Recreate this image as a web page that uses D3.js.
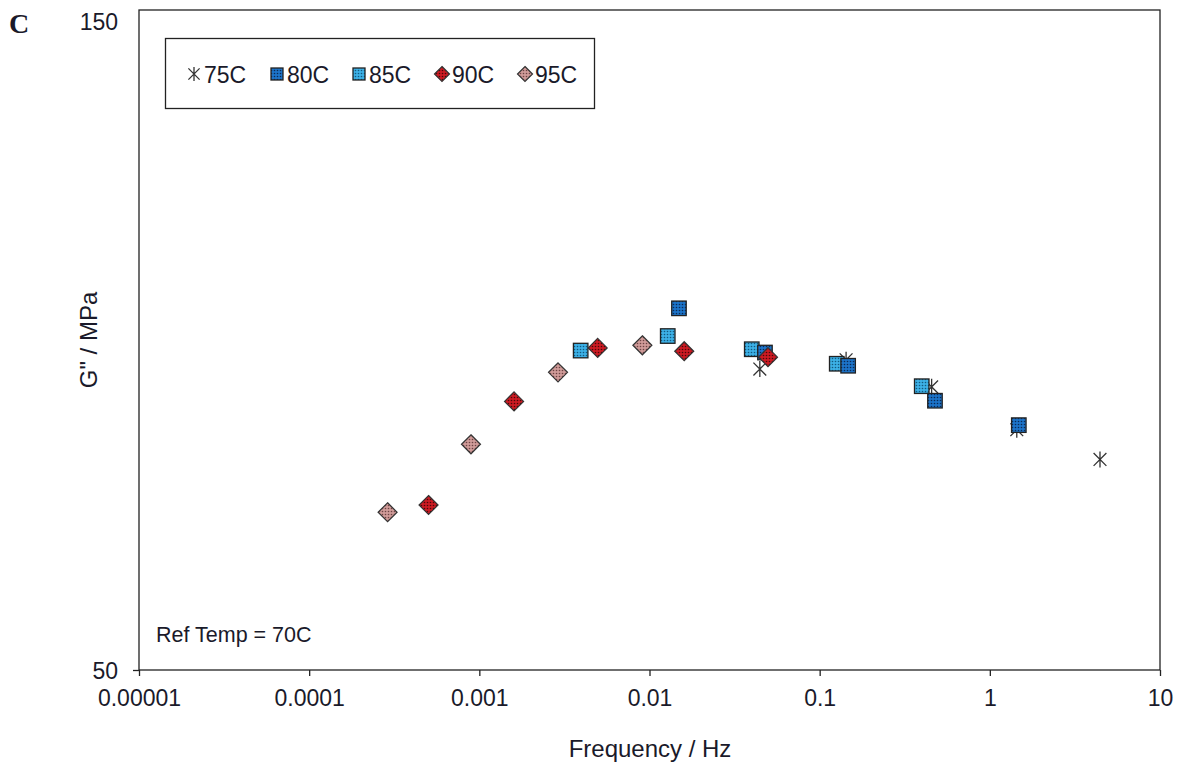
<!DOCTYPE html>
<html><head><meta charset="utf-8">
<script src="https://cdn.jsdelivr.net/npm/d3@7/dist/d3.min.js"></script>
<style>body{margin:0;background:#fff}svg{display:block}text{font-family:"Liberation Sans",Arial,sans-serif;fill:#1a1a2a}</style>
</head><body><svg id="c" width="1179" height="767"></svg>
<script>
const series = ["75C","80C","85C","90C","95C"];
const f75 = [0.0445, 0.143, 0.455, 1.44, 4.44];
const g75 = [95.6, 97.0, 92.9, 86.4, 81.9];
const f80 = [0.0149, 0.0477, 0.147, 0.476, 1.48];
const g80 = [104.8, 98.1, 96.1, 90.8, 87.1];
const f85 = [0.00394, 0.0128, 0.0399, 0.126, 0.398];
const g85 = [98.4, 100.6, 98.6, 96.4, 93.0];
const f90 = [0.000503, 0.0016, 0.00496, 0.016, 0.0497];
const g90 = [75.0, 90.7, 98.8, 98.3, 97.4];
const f95 = [0.000289, 0.000893, 0.0029, 0.00908];
const g95 = [73.9, 84.2, 95.1, 99.2];
const xTicks = [0.00001, 0.0001, 0.001, 0.01, 0.1, 1, 10];
const xTickLabels = ["0.00001","0.0001","0.001","0.01","0.1","1","10"];
const yTicks = [50, 150];

const svg = d3.select("#c");
const L = 139, R = 1160, T = 10, B = 670;
const x = d3.scaleLog().domain([1e-5, 10]).range([L, R]);
const y = d3.scaleLinear().domain([50, 150]).range([B, T]);

// patterns
const defs = svg.append("defs");
function pat(id, bg, dot) {
  const p = defs.append("pattern").attr("id", id).attr("patternUnits", "userSpaceOnUse")
    .attr("width", 3).attr("height", 3);
  p.append("rect").attr("width", 3).attr("height", 3).attr("fill", bg);
  p.append("circle").attr("cx", 1.5).attr("cy", 1.5).attr("r", 0.8).attr("fill", dot);
}
pat("p80", "#1c73c8", "#0a2a55");
pat("p85", "#3cb0e6", "#135a80");
pat("p90", "#cc1a22", "#4a0808");
pat("p95", "#cf9a98", "#6e4444");

// frame
svg.append("rect").attr("x", L).attr("y", T).attr("width", R - L).attr("height", B - T)
  .attr("fill", "none").attr("stroke", "#222").attr("stroke-width", 1.3);

// x axis
const xa = svg.append("g").attr("transform", `translate(0,${B})`)
  .call(d3.axisBottom(x).tickValues(xTicks).tickFormat((d, i) => xTickLabels[i]).tickSize(6).tickSizeOuter(0));
xa.select(".domain").remove();
xa.selectAll(".tick line").attr("stroke", "#222").attr("stroke-width", 1.3);
xa.selectAll(".tick text").attr("font-size", 23).attr("y", 36).attr("dy", 0).attr("fill", "#1a1a2a")
  .style("font-family", "Liberation Sans, Arial, sans-serif");

// y axis
const ya = svg.append("g").attr("transform", `translate(${L},0)`)
  .call(d3.axisLeft(y).tickValues(yTicks).tickFormat(d3.format("d")).tickSize(6).tickSizeOuter(0));
ya.select(".domain").remove();
ya.selectAll(".tick line").attr("stroke", "#222").attr("stroke-width", 1.3)
  .attr("opacity", d => d === 150 ? 0 : 1);
ya.selectAll(".tick text").attr("font-size", 23).attr("x", -21).attr("fill", "#1a1a2a")
  .attr("dy", d => d === 150 ? "0.85em" : "0.36em")
  .style("font-family", "Liberation Sans, Arial, sans-serif");

// labels
svg.append("text").attr("x", 9).attr("y", 33).text("C")
  .style("font-family", "Liberation Serif, Times New Roman, serif").attr("font-weight", "bold")
  .attr("font-size", 28).attr("fill", "#111");
svg.append("text").attr("x", 650).attr("y", 757).attr("text-anchor", "middle")
  .attr("font-size", 24).text("Frequency / Hz");
svg.append("text").attr("transform", `translate(97,340) rotate(-90)`).attr("text-anchor", "middle")
  .attr("font-size", 24).text("G\" / MPa");
svg.append("text").attr("x", 156).attr("y", 642).attr("font-size", 21.5).text("Ref Temp = 70C");

// markers
const sq = 14.5, dm = 9.5;
function square(g, cx, cy, fillId, s) {
  g.append("rect").attr("x", cx - s / 2).attr("y", cy - s / 2).attr("width", s).attr("height", s)
    .attr("fill", `url(#${fillId})`).attr("stroke", "#222").attr("stroke-width", 1.3);
}
function diamond(g, cx, cy, fillId, r) {
  g.append("path").attr("d", `M${cx},${cy - r}L${cx + r},${cy}L${cx},${cy + r}L${cx - r},${cy}Z`)
    .attr("fill", `url(#${fillId})`).attr("stroke", "#333").attr("stroke-width", 1.2);
}
function star(g, cx, cy, r) {
  const a = r * 0.8;
  g.append("path").attr("d", `M${cx},${cy - r}L${cx},${cy + r}M${cx - a},${cy - a}L${cx + a},${cy + a}M${cx - a},${cy + a}L${cx + a},${cy - a}`)
    .attr("stroke", "#333").attr("stroke-width", 1.3).attr("fill", "none");
}

const plot = svg.append("g");
f75.forEach((f, i) => star(plot, x(f), y(g75[i]), 8));
f95.forEach((f, i) => diamond(plot, x(f), y(g95[i]), "p95", dm));
f85.forEach((f, i) => square(plot, x(f), y(g85[i]), "p85", sq));
f80.forEach((f, i) => square(plot, x(f), y(g80[i]), "p80", sq));
f90.forEach((f, i) => diamond(plot, x(f), y(g90[i]), "p90", dm));

// legend
svg.append("rect").attr("x", 165.5).attr("y", 38.5).attr("width", 429).attr("height", 70)
  .attr("fill", "#fff").attr("stroke", "#222").attr("stroke-width", 1.3);
const leg = svg.append("g");
const lx = [194, 277, 359, 442, 525];
const ly = 74;
star(leg, lx[0], ly, 7);
square(leg, lx[1], ly, "p80", 12);
square(leg, lx[2], ly, "p85", 12);
diamond(leg, lx[3], ly, "p90", 7.5);
diamond(leg, lx[4], ly, "p95", 7.5);
series.forEach((s, i) => {
  leg.append("text").attr("x", lx[i] + 10).attr("y", ly + 8.5).attr("font-size", 23).text(s);
});
</script></body></html>
